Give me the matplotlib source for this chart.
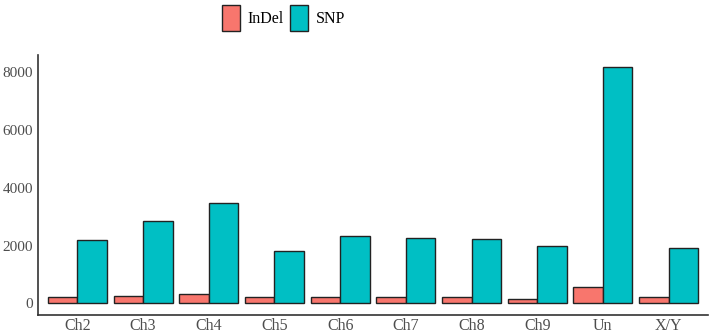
import numpy as np
import matplotlib.pyplot as plt

plt.rcParams['font.family'] = ['Liberation Serif', 'DejaVu Serif']

chroms = ['Ch2', 'Ch3', 'Ch4', 'Ch5', 'Ch6', 'Ch7', 'Ch8', 'Ch9', 'Un', 'X/Y']
indel = [214, 260, 340, 214, 214, 214, 214, 165, 580, 214]
snp = [2180, 2845, 3465, 1820, 2340, 2260, 2225, 1970, 8160, 1925]

fig = plt.figure(figsize=(7.1, 3.35), dpi=100)
ax = fig.add_axes([38/710, (335-315.3)/335, 670/710, (315.3-55.3)/335])

x = np.arange(1, len(chroms)+1)
w = 0.45
b1 = ax.bar(x - w/2, indel, width=w, color='#F8766D', edgecolor='#222222', linewidth=1.0, label='InDel')
b2 = ax.bar(x + w/2, snp, width=w, color='#00BFC4', edgecolor='#222222', linewidth=1.0, label='SNP')

ymax = max(snp)
ax.set_ylim(-0.05*ymax, 1.05*ymax)
ax.set_xlim(0.4, len(chroms)+0.6)
ax.set_xticks(x)
ax.set_xticklabels(chroms)
ax.set_yticks([0, 2000, 4000, 6000, 8000])

for s in ['top', 'right']:
    ax.spines[s].set_visible(False)
for s in ['left', 'bottom']:
    ax.spines[s].set_color('#333333')
    ax.spines[s].set_linewidth(1.2)
ax.tick_params(length=0, colors='#4d4d4d')
ax.tick_params(axis='y', pad=3.5, labelsize=11)
ax.tick_params(axis='x', pad=2, labelsize=11.5)

fig.legend(handles=[b1, b2], loc='upper left', bbox_to_anchor=(214/710, 1.01), ncol=2,
           frameon=False, fontsize=11.5, handlelength=1.1, handleheight=2.2,
           handletextpad=0.5, columnspacing=0.4, borderaxespad=0.1)

plt.savefig('out.png', dpi=100)
